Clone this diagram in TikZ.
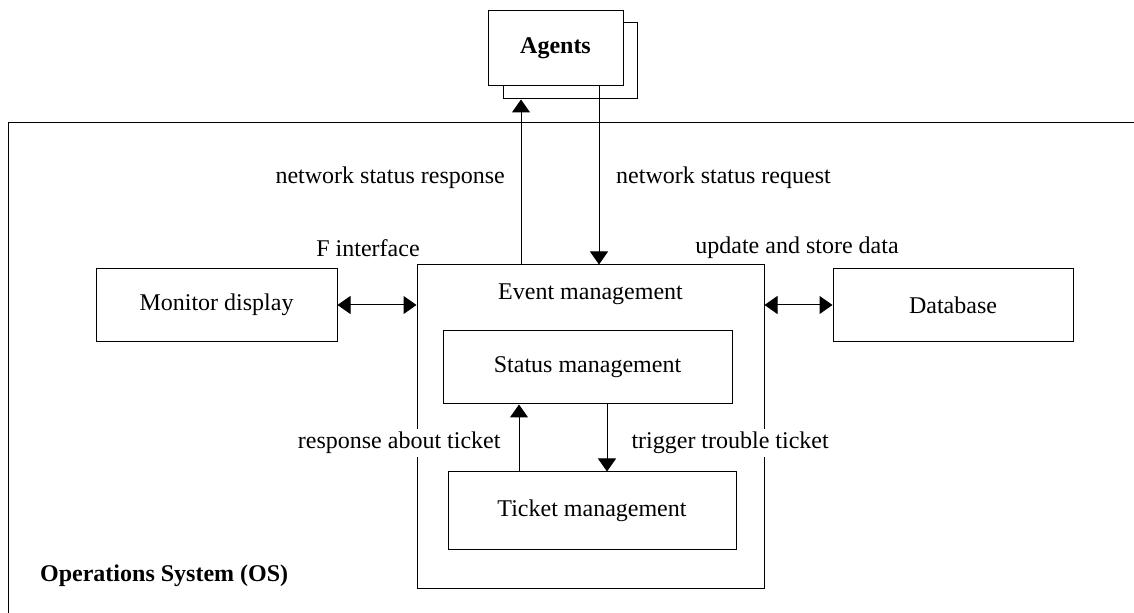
\documentclass[tikz,border=0pt]{standalone}
\usepackage{fontspec}
\setmainfont{Liberation Serif}
\usetikzlibrary{arrows.meta}

\tikzset{
  box/.style={draw, fill=white, inner sep=2pt},
  arr/.style={-{Triangle[length=6.5pt, width=9pt]}},
  darr/.style={{Triangle[length=6.5pt, width=9pt]}-{Triangle[length=6.5pt, width=9pt]}},
  lbl/.style={fill=white, inner sep=1.5pt}
}

\begin{document}
\begin{tikzpicture}[x=0.5pt, y=-0.5pt, line width=0.5pt, font=\fontsize{12}{14}\selectfont]
\useasboundingbox (0,0) rectangle (1134,613);

% OS frame, open towards the page edges
\draw (8,613) -- (8,123) -- (1134,123);
\node[anchor=west, font=\fontsize{12}{14}\selectfont\bfseries] (os) at (33,576) {Operations System (OS)};

% agents: two stacked boxes
\node[box, minimum width=67pt, minimum height=38pt] (agback) at (570,61) {};
\node[box, minimum width=67.5pt, minimum height=37.5pt, font=\fontsize{12}{14}\selectfont\bfseries] (agents) at (555.5,48.5) {Agents};

\node[box, minimum width=120.5pt, minimum height=36.5pt] (monitor) at (216.5,305) {Monitor display};
\node[box, minimum width=120pt, minimum height=36.5pt] (db) at (953,305) {Database};
\node[box, minimum width=173.5pt, minimum height=162pt] (event) at (590.5,427) {};
\node (evtitle) at (590.5,294) {Event management};
\node[box, minimum width=144.5pt, minimum height=36.5pt] (status) at (587.5,367.5) {Status management};
\node[box, minimum width=144pt, minimum height=39pt] (ticket) at (592,511) {Ticket management};

% agents <-> event management
\coordinate (up) at (521,0);
\coordinate (down) at (599,0);
\draw[arr] (up |- event.north) -- (up |- agback.south);
\draw[arr] (down |- agents.south) -- (down |- event.north);
\node[anchor=east] (resp) at (512,178) {network status response};
\node[anchor=west] (req) at (609,178) {network status request};

\draw[darr] (monitor.east) -- (monitor.east -| event.west);
\draw[darr] (db.west -| event.east) -- (db.west);
\node (fif) at (368,248) {F interface};
\node (upd) at (797,248) {update and store data};

% status <-> ticket
\coordinate (stup) at (519,0);
\coordinate (stdown) at (607,0);
\draw[arr] (stup |- ticket.north) -- (stup |- status.south);
\draw[arr] (stdown |- status.south) -- (stdown |- ticket.north);
\node[lbl, anchor=east] (rat) at (504,443) {response about ticket};
\node[lbl, anchor=west] (ttt) at (628,443) {trigger trouble ticket};
\end{tikzpicture}
\end{document}
